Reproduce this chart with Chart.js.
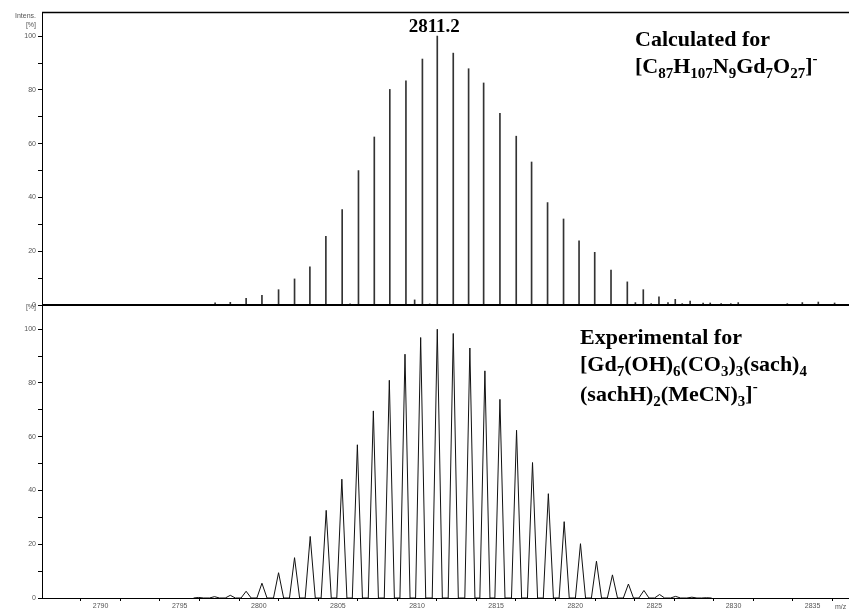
<!DOCTYPE html>
<html>
<head>
<title>Isotope pattern</title>
<script src="https://cdn.jsdelivr.net/npm/chart.js@4.4.0/dist/chart.umd.min.js"></script>
<style>
  body { margin: 0; background: #fff; }
  #wrap { position: relative; width: 849px; height: 611px; }
  .lbl { position: absolute; font-family: "Liberation Serif", "Times New Roman", serif; font-weight: bold;
         font-size: 22px; line-height: 27px; color: #000; white-space: nowrap; }
  .lbl sub { font-size: 15px; position: relative; top: 5px; vertical-align: baseline; }
  .lbl sup { font-size: 15px; position: relative; top: -10px; vertical-align: baseline; }
</style>
</head>
<body>
<div id="wrap">
  <canvas id="ms" width="849" height="611"></canvas>
  <div class="lbl" style="left:635px; top:25px;">Calculated for<br>[C<sub>87</sub>H<sub>107</sub>N<sub>9</sub>Gd<sub>7</sub>O<sub>27</sub>]<sup>-</sup></div>
  <div class="lbl" style="left:580px; top:323px;">Experimental for<br>[Gd<sub>7</sub>(OH)<sub>6</sub>(CO<sub>3</sub>)<sub>3</sub>(sach)<sub>4</sub><br>(sachH)<sub>2</sub>(MeCN)<sub>3</sub>]<sup>-</sup></div>
</div>
<script>
// calculated isotope pattern (stick spectrum), m/z and relative intensity [%]
const calcMz = [2797.24, 2798.2, 2799.2, 2800.2, 2801.25, 2802.26, 2803.23, 2804.24, 2805.27, 2805.77,
  2806.3, 2806.9, 2807.3, 2808.28, 2809.3, 2809.85, 2810.34, 2810.8, 2811.28, 2812.29, 2813.26, 2814.21,
  2815.24, 2816.27, 2817.24, 2818.25, 2819.26, 2820.24, 2820.76, 2821.23, 2822.26, 2823.29, 2823.8,
  2824.3, 2824.8, 2825.29, 2825.86, 2826.32, 2826.76, 2827.26, 2828.08, 2828.53, 2829.22, 2829.83,
  2830.3, 2831.3, 2832.3, 2832.6, 2833.4, 2834.35, 2835.36, 2836.39];
const calcInt = [0.8, 1.0, 2.5, 3.6, 5.7, 9.7, 14.2, 25.5, 35.5, 0.4,
  50, 0.1, 62.5, 80.2, 83.4, 1.9, 91.5, 0.4, 100, 93.7, 87.9, 82.6,
  71.3, 62.8, 53.2, 38.1, 32, 23.9, 0.2, 19.6, 13, 8.6, 0.9,
  5.7, 0.5, 3.0, 0.9, 2.1, 0.5, 1.5, 0.75, 0.75, 0.5, 0.5,
  0.9, 0.25, 0.15, 0.2, 0.5, 0.9, 1.1, 0.75];

// experimental peaks, apex m/z and relative intensity [%]
const expMz = [2796.2, 2797.2, 2798.2, 2799.2, 2800.2, 2801.25, 2802.26, 2803.25, 2804.26, 2805.25,
  2806.23, 2807.24, 2808.25, 2809.24, 2810.23, 2811.28, 2812.29, 2813.34, 2814.29, 2815.24, 2816.29,
  2817.3, 2818.3, 2819.3, 2820.33, 2821.34, 2822.35, 2823.36, 2824.34, 2825.33, 2826.34, 2827.37, 2828.3];
const expInt = [0.2, 0.5, 1.0, 2.5, 5.5, 9.4, 15, 22.9, 32.6, 44.2,
  57, 69.6, 81, 90.7, 96.9, 100, 98.4, 93, 84.5, 73.9, 62.4,
  50.4, 38.8, 28.4, 20.2, 13.7, 8.6, 5.2, 2.8, 1.3, 0.6, 0.3, 0.1];

const xTickVals = [2787.5, 2790, 2792.5, 2795, 2797.5, 2800, 2802.5, 2805, 2807.5, 2810, 2812.5, 2815,
  2817.5, 2820, 2822.5, 2825, 2827.5, 2830, 2832.5, 2835];
const yTickVals = [0, 10, 20, 30, 40, 50, 60, 70, 80, 90, 100];
const peakLabel = '2811.2';
const peakMz = 2811.28;

const halfBase = 0.32;
const expLine = [];
expMz.forEach((c, i) => {
  expLine.push({x: c - halfBase, y: 0}, {x: c, y: expInt[i]}, {x: c + halfBase, y: 0});
});

const tickFont = {family: 'Liberation Sans', size: 7};

function yAxis() {
  return {
    type: 'linear', position: 'left', stack: 'ms', stackWeight: 1, min: 0, max: 109,
    grid: {drawOnChartArea: false, tickLength: 4, color: '#000'},
    border: {color: '#000', width: 1},
    ticks: {font: tickFont, color: '#555', padding: 2, autoSkip: false,
      callback: v => (v % 20 === 0 ? v : '')},
    afterBuildTicks: s => { s.ticks = yTickVals.map(v => ({value: v})); },
    afterFit: s => { s.width = 42; }
  };
}

const decor = {
  id: 'decor',
  afterDraw(chart) {
    const {ctx, chartArea: a, scales} = chart;
    ctx.save();
    ctx.strokeStyle = '#000';
    ctx.lineWidth = 1.5;
    ctx.beginPath();
    ctx.moveTo(a.left, a.top + 0.5);
    ctx.lineTo(a.right, a.top + 0.5);
    ctx.stroke();
    const y0 = scales.yTop.getPixelForValue(0);
    ctx.lineWidth = 2;
    ctx.beginPath();
    ctx.moveTo(a.left, y0);
    ctx.lineTo(a.right, y0);
    ctx.stroke();

    ctx.fillStyle = '#555';
    ctx.font = '7px "Liberation Sans"';
    ctx.textAlign = 'right';
    ctx.fillText('Intens.', 36, 18);
    ctx.fillText('[%]', 36, 27);
    ctx.fillText('[%]', 36, 309);
    ctx.textAlign = 'left';
    ctx.fillText('m/z', 835, 609);

    ctx.fillStyle = '#000';
    ctx.font = 'bold 19px "Liberation Serif"';
    ctx.textAlign = 'center';
    ctx.fillText(peakLabel, scales.x.getPixelForValue(peakMz) - 3, 32);
    ctx.restore();
  }
};

new Chart(document.getElementById('ms'), {
  type: 'line',
  data: {
    datasets: [
      {
        type: 'bar', label: 'Calculated', yAxisID: 'yTop', xAxisID: 'x',
        data: calcMz.map((x, i) => ({x: x, y: calcInt[i]})),
        backgroundColor: '#333', borderWidth: 0, barThickness: 1, grouped: false
      },
      {
        type: 'line', label: 'Experimental', yAxisID: 'yBot', xAxisID: 'x',
        data: expLine, borderColor: '#111', borderWidth: 1, pointRadius: 0, tension: 0, fill: false
      }
    ]
  },
  options: {
    responsive: false,
    animation: false,
    layout: {padding: {top: 12, right: 0, bottom: 0, left: 0}},
    plugins: {legend: {display: false}, tooltip: {enabled: false}},
    scales: {
      x: {
        type: 'linear', min: 2786.3, max: 2837.3, offset: false,
        grid: {drawOnChartArea: false, tickLength: 3, color: '#000'},
        border: {color: '#000', width: 1},
        ticks: {font: tickFont, color: '#555', padding: 1, autoSkip: false, maxRotation: 0,
          callback: v => (v % 5 === 0 ? v : '')},
        afterBuildTicks: s => { s.ticks = xTickVals.map(v => ({value: v})); },
        afterFit: s => { s.height = 13; }
      },
      // left stacked axes are laid out last-defined first, so the bottom panel comes first here
      yBot: yAxis(),
      yTop: yAxis()
    }
  },
  plugins: [decor]
});
</script>
</body>
</html>
